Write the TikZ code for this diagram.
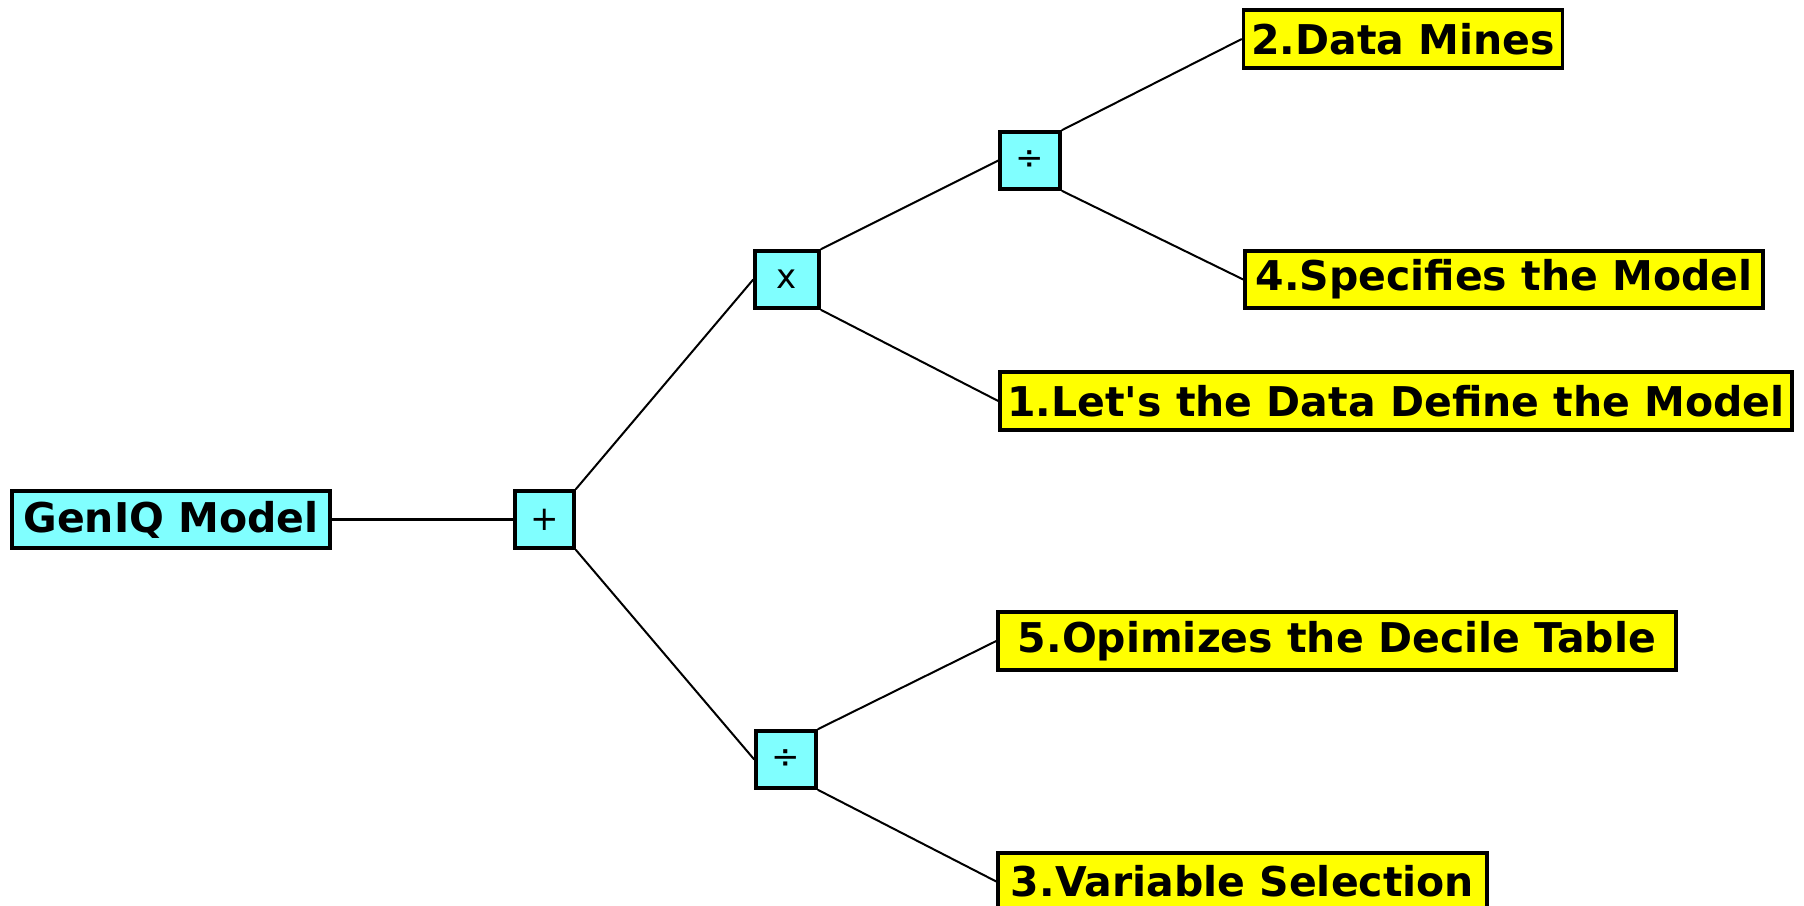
\documentclass[tikz,border=0pt]{standalone}
\usepackage{fontspec}
\newfontfamily\labelfont{DejaVu Sans}
\definecolor{boxcyan}{HTML}{80FFFF}
\definecolor{boxyellow}{HTML}{FFFF00}
\begin{document}
\begin{tikzpicture}[x=1pt,y=-1pt,
  base/.style={draw=black,line width=3.5pt,rectangle,inner sep=0pt,
    font=\labelfont\fontsize{41}{41}\selectfont\bfseries},
  opbox/.style={base,fill=boxcyan},
  opsym/.style={base,fill=boxcyan,font=\labelfont\fontsize{34}{34}\selectfont},
  leaf/.style={base,fill=boxyellow},
  link/.style={line width=2pt,black},
  hlink/.style={line width=3pt,black}]
\clip (0,0) rectangle (1804,905);
\fill[white] (0,0) rectangle (1804,905);
\node[opbox,minimum width=318pt,minimum height=57pt] (genIQ) at (171,519.5) {GenIQ Model};
\node[opsym,minimum width=59pt,minimum height=57pt] (plus) at (544.5,519.5) {+};
\node[opsym,minimum width=64pt,minimum height=57pt] (times) at (787,279.5) {x};
\node[opsym,minimum width=60pt,minimum height=57pt] (divtop) at (1030,160.5) {÷};
\node[opsym,minimum width=60pt,minimum height=57pt] (divbot) at (786,759.5) {÷};
\node[leaf,minimum width=319pt,minimum height=58pt] (d2) at (1403,39) {2.Data Mines};
\node[leaf,minimum width=518pt,minimum height=57pt] (d4) at (1504,279.5) {4.Specifies the Model};
\node[leaf,minimum width=792pt,minimum height=58pt] (d1) at (1396,401) {1.Let's the Data Define the Model};
\node[leaf,minimum width=678pt,minimum height=58pt] (d5) at (1337,641) {5.Opimizes the Decile Table};
\node[leaf,minimum width=489pt,minimum height=57pt] (d3) at (1242.5,881.5) {3.Variable Selection};
\draw[hlink] (genIQ.east) -- (plus.west);
\draw[link] (plus.north east) -- (times.west);
\draw[link] (plus.south east) -- (divbot.west);
\draw[link] (times.north east) -- (divtop.west);
\draw[link] (times.south east) -- (d1.west);
\draw[link] (divtop.north east) -- (d2.west);
\draw[link] (divtop.south east) -- (d4.west);
\draw[link] (divbot.north east) -- (d5.west);
\draw[link] (divbot.south east) -- (d3.west);
\end{tikzpicture}
\end{document}
